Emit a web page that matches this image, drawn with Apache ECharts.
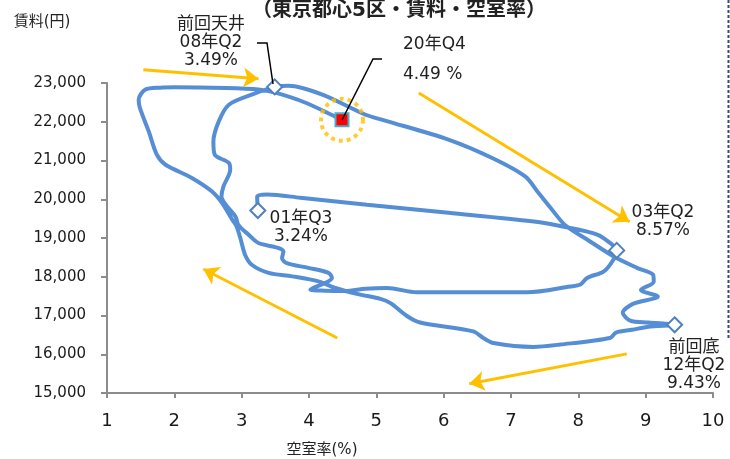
<!DOCTYPE html>
<html>
<head>
<meta charset="utf-8">
<script src="https://cdn.jsdelivr.net/npm/echarts@6/dist/echarts.min.js"></script>
<style>
  html, body { margin: 0; padding: 0; background: #fff; }
  #main { width: 730px; height: 459px; }
</style>
</head>
<body>
<div id="main"></div>
<script>
  // 空室率(%) と 賃料(円) の軌跡（01年Q3 → 20年Q4）
  const vacancy = [
    3.24, 3.23, 3.38, 3.87, 4.86, 6.07, 7.31, 7.88, 8.28, 8.45, 8.57,
    8.52, 8.38, 8.13, 8.03, 7.88, 7.24, 6.25, 5.60, 5.16, 4.84, 4.54, 4.24, 4.02, 4.24, 4.34,
    4.29, 3.99, 3.67, 3.60, 3.62, 3.55, 3.25, 3.10, 2.95, 2.91, 2.78, 2.70, 2.73, 2.83, 2.81,
    2.60, 2.58, 2.66, 2.81, 3.15, 3.49,
    3.70, 4.20, 4.84, 5.13, 6.07, 6.72, 7.21, 7.41, 7.61, 7.81, 8.13, 8.52, 8.87, 9.11, 9.12,
    8.93, 9.18, 8.81, 8.66, 8.77, 9.04, 9.43,
    9.04, 8.80, 8.56, 8.47, 7.73, 7.33, 6.74, 6.59, 6.44, 5.65, 5.46, 5.21, 5.06, 4.76, 4.39,
    4.14, 3.75, 3.40, 3.15, 3.05, 2.98, 2.92, 2.86, 2.71, 2.56, 2.26, 1.87, 1.74, 1.62, 1.49,
    1.47, 1.57, 1.79, 2.01, 2.76, 3.25, 3.50, 3.95, 4.39, 4.49
  ];
  const rent = [
    19710, 20070, 20120, 20040, 19860, 19650, 19430, 19260, 19090, 18900, 18680,
    18440, 18140, 17970, 17800, 17750, 17600, 17600, 17600, 17710, 17690, 17630, 17640, 17670, 17840, 17970,
    18100, 18230, 18350, 18480, 18650, 18740, 18870, 19090, 19340, 19550, 19820, 20070, 20330, 20760, 20940,
    21150, 21490, 22010, 22440, 22700, 22900,
    22930, 22700, 22180, 22030, 21540, 21065, 20590, 20160, 19730, 19320, 18960, 18530, 18230, 18050, 17870,
    17660, 17490, 17300, 17070, 16870, 16820, 16760,
    16710, 16630, 16560, 16420, 16250, 16190, 16290, 16420, 16590, 16820, 16980, 17320, 17430, 17540, 17710,
    17880, 18010, 18100, 18310, 18570, 19000, 19320, 19470, 19900, 20200, 20550, 20890, 21150, 21750, 22350,
    22570, 22830, 22880, 22890, 22870, 22830, 22750, 22490, 22130, 22050
  ];

  // 節目（01年Q3・03年Q2・08年Q2・12年Q2）
  const keyVacancy = [3.24, 8.57, 3.49, 9.43];
  const keyRent = [19710, 18680, 22900, 16760];
  // 最新 20年Q4
  const lastVacancy = [4.49];
  const lastRent = [22050];

  // 矢印（始点 → 終点）
  const arrowFrom = [[1.54, 23340], [5.63, 22740], [4.42, 16420], [8.72, 16010]];
  const arrowTo = [[3.25, 23110], [8.76, 19420], [2.43, 18200], [6.38, 15240]];

  const yTicks = [15000, 23000, 1000];
  const xTicks = [1, 10, 1];

  const FONT = '"DejaVu Sans", "Noto Sans CJK JP", sans-serif';
  const chart = echarts.init(document.getElementById('main'));

  function txt(text, x, y, size, align, weight) {
    return {
      type: 'text',
      x: x,
      y: y,
      z: 100,
      style: {
        text: text,
        fontSize: size,
        fontFamily: FONT,
        fontWeight: weight || 'normal',
        fill: '#222',
        align: align || 'center',
        verticalAlign: 'middle',
        lineHeight: 18
      }
    };
  }

  const option = {
    animation: false,
    grid: { left: 107, right: 17, top: 83, bottom: 66 },
    xAxis: {
      type: 'value',
      min: xTicks[0],
      max: xTicks[1],
      interval: xTicks[2],
      splitLine: { show: false },
      axisLine: { lineStyle: { color: '#8c8c8c', width: 2 } },
      axisTick: { show: true, length: 5, lineStyle: { color: '#8c8c8c', width: 2 } },
      axisLabel: { color: '#1a1a1a', fontSize: 18, fontFamily: FONT, margin: 19 }
    },
    yAxis: {
      type: 'value',
      min: yTicks[0],
      max: yTicks[1],
      interval: yTicks[2],
      splitLine: { show: false },
      axisLine: { show: true, lineStyle: { color: '#8c8c8c', width: 2 } },
      axisTick: { show: true, length: 6, lineStyle: { color: '#8c8c8c', width: 2 } },
      axisLabel: {
        color: '#1a1a1a', fontSize: 15, fontFamily: FONT, margin: 21,
        formatter: v => v.toLocaleString('en-US')
      }
    },
    series: [
      {
        type: 'line',
        data: vacancy.map((v, i) => [v, rent[i]]),
        symbol: 'none',
        smooth: 0.3,
        lineStyle: { color: '#558ED5', width: 4 },
        z: 2
      },
      {
        type: 'lines',
        coordinateSystem: 'cartesian2d',
        clip: false,
        symbol: ['none', 'arrow'],
        symbolSize: 15,
        lineStyle: { color: '#FFC000', width: 3, opacity: 1 },
        data: arrowFrom.map((p, i) => ({ coords: [p, arrowTo[i]] })),
        z: 3
      },
      {
        type: 'scatter',
        data: keyVacancy.map((v, i) => [v, keyRent[i]]),
        symbol: 'diamond',
        symbolSize: [15, 15],
        itemStyle: { color: '#fff', borderColor: '#4F81BD', borderWidth: 2, opacity: 1 },
        z: 5
      },
      {
        type: 'scatter',
        data: lastVacancy.map((v, i) => [v, lastRent[i]]),
        symbol: 'circle',
        symbolSize: 42,
        itemStyle: { color: 'rgba(0,0,0,0)', borderColor: '#FFC000', borderWidth: 4, borderType: [4, 4] },
        z: 4
      },
      {
        type: 'scatter',
        data: lastVacancy.map((v, i) => [v, lastRent[i]]),
        symbol: 'rect',
        symbolSize: 13,
        itemStyle: { color: '#FF0000', borderColor: '#4BACC6', borderWidth: 2, opacity: 1 },
        z: 6
      }
    ],
    graphic: [
      txt('（東京都心5区・賃料・空室率）', 399, 11, 20, 'center', 'bold'),
      txt('賃料(円)', 42, 22, 15),
      txt('空室率(%)', 322, 450, 15),
      txt('前回天井\n08年Q2\n3.49%', 211, 43, 17),
      txt('20年Q4', 403, 45, 17, 'left'),
      txt('4.49 %', 403, 75, 17, 'left'),
      txt('03年Q2\n8.57%', 663, 222, 17),
      txt('01年Q3\n3.24%', 301, 228, 17),
      txt('前回底\n12年Q2\n9.43%', 694, 366, 17),
      {
        type: 'polyline',
        z: 90,
        shape: { points: [[257, 43], [267, 43], [273, 84]] },
        style: { stroke: '#000', lineWidth: 1.5, fill: null }
      },
      {
        type: 'polyline',
        z: 90,
        shape: { points: [[342, 120], [373, 59], [382, 59]] },
        style: { stroke: '#000', lineWidth: 1.5, fill: null }
      },
      {
        type: 'line',
        z: 90,
        shape: { x1: 728.5, y1: 0, x2: 728.5, y2: 340 },
        style: { stroke: '#2F4B8A', lineWidth: 2, lineDash: [3, 2] }
      }
    ]
  };
  chart.setOption(option);
</script>
</body>
</html>
